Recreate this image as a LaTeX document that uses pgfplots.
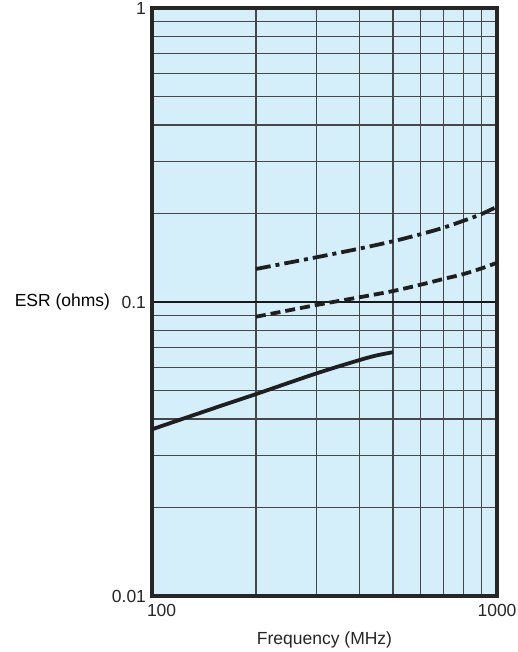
\documentclass[border=0pt]{standalone}
\usepackage{pgfplots}
\pgfplotsset{compat=1.18}
\usepackage{fontspec}
\setmainfont{Liberation Sans}
\definecolor{bg}{RGB}{212,238,250}
\begin{document}
\fontsize{17.5}{20}\selectfont
\begin{tikzpicture}[x=1pt,y=1pt]
\path[use as bounding box] (-152,-56) rectangle (365,596);
\begin{axis}[
 at={(0,0)}, anchor=south west,
 scale only axis, width=345pt, height=588pt,
 xmode=log, ymode=log,
 xmin=100, xmax=1000, ymin=0.01, ymax=1,
 axis background/.style={fill=bg},
 axis line style={line width=3.2pt, black!85},
 xtick={100,1000}, xticklabels={\rlap{\kern-5pt 100},1000},
 ytick={0.01,0.1,1}, yticklabels={0.01,0.1,1},
 minor xtick={200,300,400,500,600,700,800,900},
 minor ytick={0.02,0.03,0.04,0.05,0.06,0.07,0.08,0.09,0.2,0.3,0.4,0.5,0.6,0.7,0.8,0.9},
 grid=both,
 minor grid style={black!72, line width=1.4pt},
 major grid style={black!90, line width=2.2pt},
 major tick length=0pt, minor tick length=0pt,
 tick style={draw=none},
 /pgf/number format/assume math mode=true,
 tick label style={font=\fontsize{17.5}{20}\selectfont, black!85},
 label style={font=\fontsize{17.5}{20}\selectfont, black!85},
 xticklabel style={yshift=-2pt},
 xlabel={Frequency (MHz)},
 xlabel style={yshift=-4pt},
 ylabel={ESR (ohms)},
 every axis y label/.style={at={(ticklabel cs:0.5)}, anchor=east, xshift=10pt},
 clip=true,
]
\addplot[line width=3.8pt, black!88, smooth] coordinates {
 (100,0.0369) (150,0.0434) (200,0.0486) (300,0.0572) (400,0.0635) (450,0.0659) (500,0.0675)};
\addplot[line width=3.8pt, black!88, smooth, dash pattern=on 10pt off 5pt] coordinates {
 (200,0.0891) (300,0.0977) (400,0.1038) (500,0.1090) (600,0.1145) (700,0.1198) (800,0.1245) (900,0.1300) (1000,0.1360)};
\addplot[line width=3.8pt, black!88, smooth, dash pattern=on 15pt off 5pt on 4pt off 5pt] coordinates {
 (200,0.1295) (300,0.1420) (400,0.1520) (500,0.1610) (600,0.1700) (700,0.1790) (800,0.1890) (900,0.1990) (1000,0.2110)};
\end{axis}
\end{tikzpicture}
\end{document}
